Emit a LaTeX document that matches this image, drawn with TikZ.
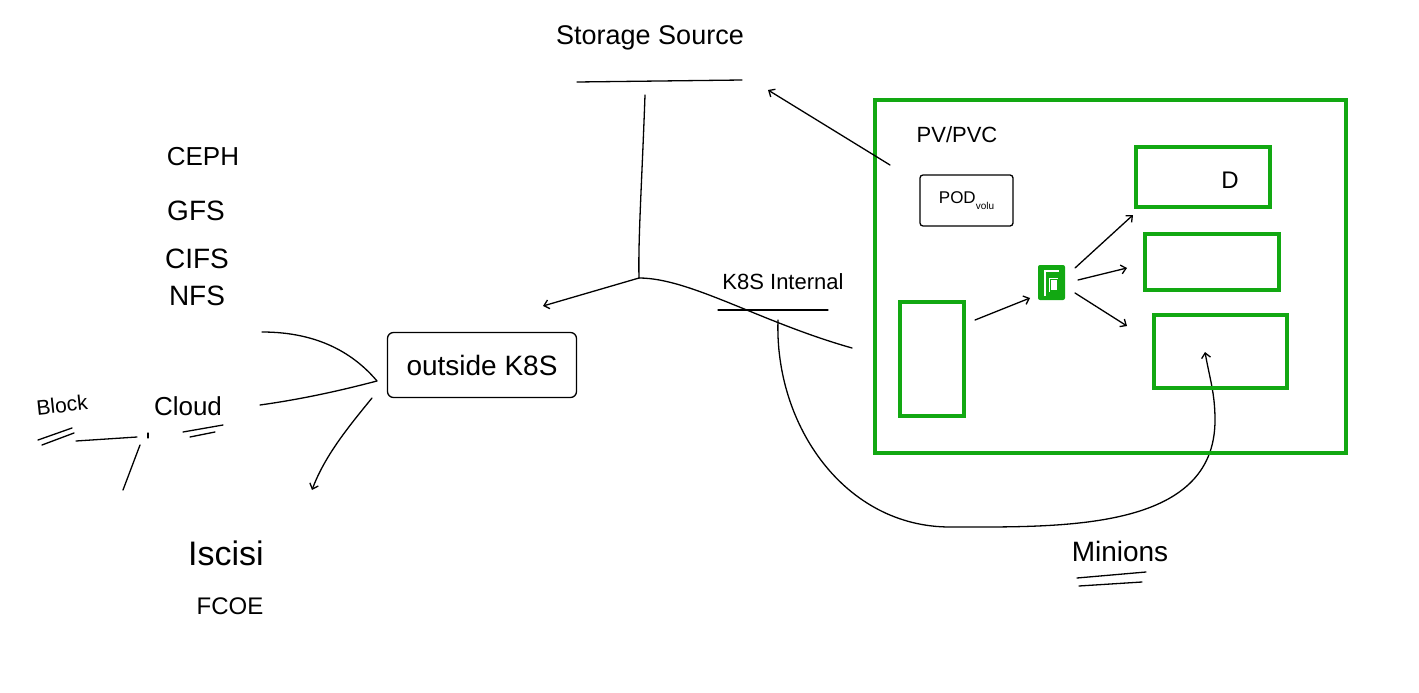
\documentclass[tikz,border=0pt]{standalone}
\usepackage{fontspec}
\setmainfont{Liberation Sans}
\usetikzlibrary{arrows.meta}
\definecolor{grn}{RGB}{18,168,18}
\tikzset{
  ink/.style={draw=black, line width=1.3pt, line cap=round, line join=round},
  arr/.style={ink, -{Straight Barb[length=5pt,width=9pt]}},
  gbox/.style={draw=grn, line width=4pt, inner sep=0pt},
  lbl/.style={inner sep=0pt, font=\fontsize{26}{26}\selectfont},
}
\begin{document}
\begin{tikzpicture}[x=1pt,y=-1pt]
\useasboundingbox (0,0) rectangle (1419,693);
\fill[white] (0,0) rectangle (1419,693);

% --- Storage source
\node[lbl, font=\fontsize{27}{27}\selectfont] (ss) at (650,38) {Storage Source};
\coordinate (su1) at (577,82); \coordinate (su2) at (742,80);
\draw[ink] (su1) -- (su2);
\coordinate (sv) at (645,95);
\coordinate (J) at (639,278);
\draw[ink] (sv) .. controls (642,180) and (638,240) .. (J);
\coordinate (osA) at (543,306);
\draw[arr] (J) -- (osA);

% --- K8S internal
\node[lbl, font=\fontsize{22}{22}\selectfont] (ki) at (783,282) {K8S Internal};
\coordinate (ku1) at (718,310); \coordinate (ku2) at (828,310);
\draw[ink] (ku1) -- (ku2);
\coordinate (ke) at (852,348);
\draw[ink] (J) .. controls (690,278) and (760,322) .. (ke);
\coordinate (kv) at (778,320);
\coordinate (mt) at (1205,352);
\draw[arr] (kv) to[out=-92,in=180] (950,527) to[out=0,in=-90] (1215,420) to[out=90,in=-80] (mt);

% --- outside K8S
\node[draw, line width=1.3pt, rounded corners=6pt, minimum width=189pt, minimum height=65pt, inner sep=0pt,
      font=\fontsize{28}{28}\selectfont] (os) at (482,365) {outside K8S};
\coordinate (l1) at (262,332);
\coordinate (l2) at (260,405);
\coordinate (h) at (377,381);
\draw[ink] (l1) .. controls (320,332) and (355,355) .. (h);
\draw[ink] (l2) .. controls (310,398) and (350,388) .. (h);
\coordinate (iA) at (312,490);
\draw[arr] (372,398) .. controls (350,425) and (325,455) .. (iA);

% --- left list
\node[lbl] (ceph) at (203,157) {CEPH};
\node[lbl, font=\fontsize{28}{28}\selectfont] (gfs) at (196,211) {GFS};
\node[lbl, font=\fontsize{28}{28}\selectfont] (cifs) at (197,259) {CIFS};
\node[lbl, font=\fontsize{28}{28}\selectfont] (nfs) at (197,296) {NFS};

% --- Block / Cloud
\node[lbl, font=\fontsize{21}{21}\selectfont, rotate=6] (blk) at (62,405) {Block};
\draw[ink] (38,440) -- (72,428);
\draw[ink] (42,445) -- (74,433);
\node[lbl, font=\fontsize{26}{26}\selectfont] (cld) at (188,406) {Cloud};
\draw[ink] (183,432) -- (223,425);
\draw[ink] (190,437) -- (215,432);
\coordinate (b1) at (76,441); \coordinate (b2) at (137,437);
\draw[ink] (b1) -- (b2);
\draw[ink] (148,433) -- (148,438);
\coordinate (b3) at (140,445); \coordinate (b4) at (123,490);
\draw[ink] (b3) -- (b4);

% --- Iscisi / FCOE
\node[lbl, font=\fontsize{34}{34}\selectfont] (isc) at (226,553) {Iscisi};
\node[lbl, font=\fontsize{24}{24}\selectfont] (fcoe) at (230,606) {FCOE};

% --- green cluster box
\node[gbox, minimum width=471pt, minimum height=353pt] (cl) at (1110.5,276.5) {};
\node[lbl, font=\fontsize{22}{22}\selectfont] (pv) at (957,135) {PV/PVC};
\node[draw, line width=1.3pt, rounded corners=3pt, minimum width=93pt, minimum height=51pt, inner sep=0pt] (pod) at (966.5,200.5)
  {\fontsize{17}{17}\selectfont POD\raisebox{-6pt}{\fontsize{10}{10}\selectfont volu}};
\coordinate (pvA) at (890,165); \coordinate (stA) at (768,90);
\draw[arr] (pvA) -- (stA);

\node[gbox, minimum width=134pt, minimum height=60pt] (r1) at (1203,177) {};
\node[lbl, font=\fontsize{24}{24}\selectfont] (d) at (1230,180) {D};
\node[gbox, minimum width=134pt, minimum height=56pt] (r2) at (1212,262) {};
\node[gbox, minimum width=133pt, minimum height=73pt] (r3) at (1220.5,351.5) {};
\node[gbox, minimum width=64pt, minimum height=114pt] (r4) at (932,359) {};

% small service square
\node[fill=grn, minimum width=27pt, minimum height=35pt, inner sep=0pt, rounded corners=2pt] (svc) at (1051.5,282.5) {};
\draw[white, line width=2pt] (1045,296) -- (1045,271) -- (1059,271);
\fill[white] (1051,280) rectangle (1057,290);
\draw[white, line width=1pt] (1049,292) -- (1049,278) -- (1058,278);

\coordinate (a0) at (975,320); \coordinate (a0e) at (1030,298);
\draw[arr] (a0) -- (a0e);
\coordinate (a1) at (1075,268); \coordinate (a1e) at (1133,215);
\draw[arr] (a1) -- (a1e);
\coordinate (a2) at (1078,280); \coordinate (a2e) at (1127,268);
\draw[arr] (a2) -- (a2e);
\coordinate (a3) at (1075,293); \coordinate (a3e) at (1127,326);
\draw[arr] (a3) -- (a3e);

% --- Minions
\node[lbl, font=\fontsize{28}{28}\selectfont] (min) at (1120,551) {Minions};
\draw[ink] (1077,578) -- (1146,572);
\draw[ink] (1079,586) -- (1142,582);
\end{tikzpicture}
\end{document}
